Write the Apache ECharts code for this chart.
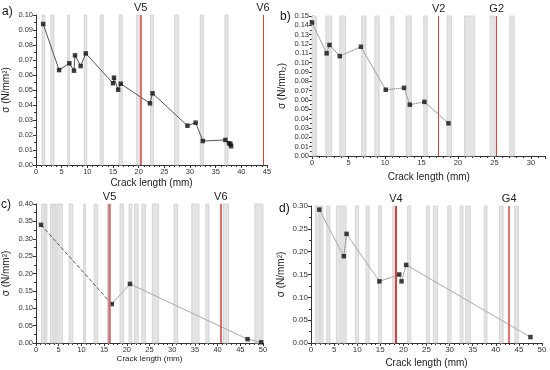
<!DOCTYPE html>
<html>
<head>
<meta charset="utf-8">
<script src="https://cdn.jsdelivr.net/npm/echarts@6/dist/echarts.min.js"></script>
<style>html,body{margin:0;padding:0;background:#fff}#c{width:550px;height:370px}</style>
</head>
<body>
<div id="c"></div>
<script>
// ---------- DATA ----------
// Panel a
const aX = [1.4, 4.5, 6.5, 7.4, 7.6, 8.7, 9.7, 15.0, 15.2, 16.0, 16.5, 22.2, 22.7, 29.5, 31.1, 32.5, 36.9, 37.6, 37.9, 38.0];
const aY = [0.094, 0.0633, 0.0678, 0.0629, 0.0731, 0.0660, 0.0744, 0.0545, 0.0582, 0.0502, 0.0542, 0.0411, 0.0478, 0.0262, 0.0282, 0.0160, 0.0167, 0.0145, 0.0140, 0.0125];
const aBands = [[1.2,1.7],[2.9,3.5],[6.2,6.5],[9.4,9.9],[12.5,13.1],[16.2,16.8],[19.6,20.2],[22.3,22.9],[27.0,27.8],[32.0,32.6],[36.8,37.4]];
const aMarks = [["V5",20.4],["V6",44.2]];
// Panel b
const bX = [0.0, 2.0, 2.4, 3.8, 6.7, 10.1, 12.6, 13.4, 15.4, 18.7];
const bY = [0.143, 0.110, 0.119, 0.107, 0.117, 0.071, 0.073, 0.055, 0.058, 0.035];
const bBands = [[0,0.6],[1.9,2.7],[3.8,4.6],[6.8,7.4],[8.6,9.2],[10.8,11.2],[12.9,13.6],[15.3,15.8],[18.5,19.1],[20.9,22.3],[24.4,25.1],[27.1,27.7]];
const bMarks = [["V2",17.35],["G2",25.3]];
// Panel c
const cX = [1.1, 16.7, 20.7, 46.6, 49.6];
const cY = [0.340, 0.112, 0.170, 0.011, 0.002];
const cBands = [[1.2,1.8],[2.0,2.4],[3.2,3.7],[3.9,4.4],[4.6,5.8],[7.3,8.1],[10.5,10.9],[12.8,13.6],[15.7,16.3],[18.5,19.3],[20.5,21.1],[21.7,22.5],[23.3,24.1],[25.6,27.0],[30.4,31.2],[34.3,35.9],[37.4,38.1],[41.3,42.4],[48.2,50]];
const cMarks = [["V5",16.2],["V6",40.7]];
// Panel d
const dX = [1.8, 7.1, 7.7, 14.8, 19.1, 19.6, 20.6, 47.5];
const dY = [0.292, 0.190, 0.239, 0.135, 0.150, 0.135, 0.171, 0.013];
const dBands = [[1.0,1.8],[2.0,2.6],[3.4,4.1],[5.5,6.5],[6.8,7.6],[9.6,10.3],[11.9,12.6],[14.6,15.3],[17.7,18.3],[20.9,21.6],[25.0,25.6],[26.5,27.4],[29.6,30.3],[32.3,32.9],[33.5,34.5],[37.5,38.1],[40.8,41.6],[44.1,44.9]];
const dMarks = [["V4",18.4],["G4",42.9]];

// ---------- STYLE / LAYOUT ----------
const FONT = 'Liberation Sans';
const panels = [
  {label:'a)', lpos:[2,6], xs:aX, ys:aY, bands:aBands, marks:aMarks, grid:{left:35,top:15,width:232,height:150},
   xMax:45, yMax:0.10, yInt:0.01, yName:'σ (N/mm²)', xNameGap:13, xNameSize:10, lblSize:7.5,
   lineColor:'#555', styled:{}, redW:[1.5,1]},
  {label:'b)', lpos:[280,11], xs:bX, ys:bY, bands:bBands, marks:bMarks, grid:{left:312,top:16,width:233.6,height:140},
   xMax:32, yMax:0.15, yInt:0.01, yName:'σ (N/mm₂)', xNameGap:16, xNameSize:10, lblSize:7.5,
   lineColor:'#a0a0a0', styled:{5:'dotted',7:'dotted'}, redW:[1,1]},
  {label:'c)', lpos:[1,199], xs:cX, ys:cY, bands:cBands, marks:cMarks, grid:{left:34,top:204,width:229,height:139},
   xMax:50, yMax:0.40, yInt:0.05, yName:'σ (N/mm²)', xNameGap:11, xNameSize:8, lblSize:7.5,
   lineColor:'#aaaaaa', styled:{0:'dashed'}, redW:[2.5,1.5], redC:['#cc7070','#d03a32']},
  {label:'d)', lpos:[279,203], xs:dX, ys:dY, bands:dBands, marks:dMarks, grid:{left:311,top:206,width:231,height:137},
   xMax:50, yMax:0.30, yInt:0.05, yName:'σ (N/mm²)', xNameGap:15, xNameSize:10, lblSize:8,
   lineColor:'#aaaaaa', styled:{1:'dotted'}, redW:[2,1.5]}
];

const grids=[], xAxes=[], yAxes=[], series=[], titles=[];
panels.forEach((p,i)=>{
  grids.push(p.grid);
  titles.push({text:p.label, left:p.lpos[0], top:p.lpos[1], padding:0, textStyle:{fontFamily:FONT,fontSize:12,fontWeight:'normal',color:'#111'}});
  xAxes.push({gridIndex:i, type:'value', min:0, max:p.xMax, interval:5,
    name:'Crack length (mm)', nameLocation:'middle', nameGap:p.xNameGap,
    nameTextStyle:{fontFamily:FONT,fontSize:p.xNameSize,color:'#222'},
    axisLine:{lineStyle:{color:'#333',width:1}},
    axisTick:{length:3,lineStyle:{color:'#333'}},
    minorTick:{show:true,splitNumber:5,length:2,lineStyle:{color:'#333'}},
    splitLine:{show:false},
    axisLabel:{fontFamily:FONT,fontSize:p.lblSize,color:'#333',margin:3,showMaxLabel:p.xMax%5===0}});
  yAxes.push({gridIndex:i, type:'value', min:0, max:p.yMax, interval:p.yInt,
    name:p.yName, nameLocation:'middle', nameGap:25, nameRotate:90,
    nameTextStyle:{fontFamily:FONT,fontSize:10,color:'#222'},
    axisLine:{show:true,lineStyle:{color:'#333',width:1}},
    axisTick:{show:true,length:3,lineStyle:{color:'#333'}},
    minorTick:{show:true,splitNumber:2,length:2,lineStyle:{color:'#333'}},
    splitLine:{show:false},
    axisLabel:{fontFamily:FONT,fontSize:p.lblSize,color:'#333',margin:3,formatter:v=>v.toFixed(2)}});
  // bands
  series.push({type:'line', xAxisIndex:i, yAxisIndex:i, data:[], z:1, silent:true,
    markArea:{silent:true, itemStyle:{color:'#e4e4e4',borderColor:'#cfcfcf',borderWidth:0.8},
      data:p.bands.map(b=>[{xAxis:b[0]},{xAxis:b[1]}])}});
  // red lines
  series.push({type:'line', xAxisIndex:i, yAxisIndex:i, data:[], z:2, silent:true,
    markLine:{silent:true, symbol:['none','none'], animation:false,
      data:p.marks.map((m,k)=>({xAxis:m[1], name:m[0],
        lineStyle:{color:(p.redC?p.redC[k]:'#d8403a'),width:p.redW[k],type:'solid'}})),
      label:{show:true, position:'end', formatter:'{b}', fontFamily:FONT, fontSize:11, color:'#222', distance:2}}});
  // segments
  for(let k=0;k<p.xs.length-1;k++){
    const t = p.styled[k];
    series.push({type:'line', xAxisIndex:i, yAxisIndex:i, z:3, silent:true, showSymbol:false,
      data:[[p.xs[k],p.ys[k]],[p.xs[k+1],p.ys[k+1]]],
      lineStyle:{color: t ? '#555' : p.lineColor, width: 1, type: t || 'solid'}});
  }
  // markers
  series.push({type:'scatter', xAxisIndex:i, yAxisIndex:i, z:4, symbol:'rect', symbolSize:4.5,
    itemStyle:{color:'#111'}, data:p.xs.map((x,k)=>[x,p.ys[k]])});
});

const chart = echarts.init(document.getElementById('c'), null, {renderer:'canvas'});
chart.setOption({animation:false, backgroundColor:'#fff', title:titles, grid:grids, xAxis:xAxes, yAxis:yAxes, series:series});
</script>
</body>
</html>
